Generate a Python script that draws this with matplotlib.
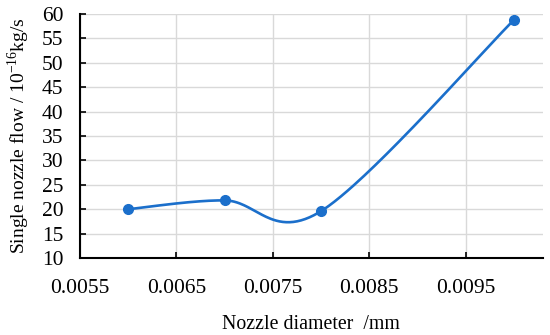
import numpy as np
import matplotlib
matplotlib.use("Agg")
import matplotlib.pyplot as plt

# Data
diameters = [0.006, 0.007, 0.008, 0.010]
flows = [20.0, 21.8, 19.6, 58.8]
x_ticks = [0.0055, 0.0065, 0.0075, 0.0085, 0.0095]
y_ticks = [10, 15, 20, 25, 30, 35, 40, 45, 50, 55, 60]

plt.rcParams['font.family'] = ['Liberation Serif', 'DejaVu Serif']
plt.rcParams['mathtext.fontset'] = 'custom'
plt.rcParams['mathtext.rm'] = 'Liberation Serif'

fig = plt.figure(figsize=(5.5, 3.35), dpi=100)
ax = fig.add_axes([0.1455, 0.23, 0.8415, 0.728])

xmin, xmax = 0.0055, 0.0103
ymin, ymax = 10, 60
ax.set_xlim(xmin, xmax)
ax.set_ylim(ymin, ymax)

# Excel-like smoothed line (Catmull-Rom Bezier in normalized screen space)
W, H = 463.0, 244.0
px = (np.array(diameters) - xmin) / (xmax - xmin) * W
py = (np.array(flows) - ymin) / (ymax - ymin) * H
pts = np.column_stack([px, py])
n = len(pts)
curve = []
t = np.linspace(0, 1, 60)[:, None]
for i in range(n - 1):
    p0 = pts[max(i - 1, 0)]
    p1 = pts[i]
    p2 = pts[i + 1]
    p3 = pts[min(i + 2, n - 1)]
    c1 = p1 + (p2 - p0) / 6.0
    c2 = p2 - (p3 - p1) / 6.0
    seg = ((1 - t) ** 3) * p1 + 3 * ((1 - t) ** 2) * t * c1 + 3 * (1 - t) * t ** 2 * c2 + t ** 3 * p2
    curve.append(seg)
curve = np.vstack(curve)
cx = curve[:, 0] / W * (xmax - xmin) + xmin
cy = curve[:, 1] / H * (ymax - ymin) + ymin

color = '#1b6fcb'
ax.plot(cx, cy, color=color, lw=1.9, zorder=3)
ax.plot(diameters, flows, 'o', color=color, markersize=7, zorder=4)

ax.set_xticks(x_ticks)
ax.set_xticklabels([f"{v:.4f}" for v in x_ticks])
ax.set_yticks(y_ticks)
ax.grid(True, color='#d9d9d9', lw=1.0, zorder=0)
ax.set_axisbelow(True)

for s in ['top', 'right']:
    ax.spines[s].set_visible(False)
for s in ['left', 'bottom']:
    ax.spines[s].set_linewidth(1.5)
    ax.spines[s].set_color('black')

ax.tick_params(axis='both', direction='in', length=4.5, width=1.2, labelsize=15.5, colors='black')
ax.tick_params(axis='x', pad=15)
ax.tick_params(axis='y', pad=12)

ax.set_xlabel('Nozzle diameter  /mm', fontsize=14.3, labelpad=12.5)
ax.set_ylabel(r'Single nozzle flow / 10$^{\mathrm{-16}}$kg/s', fontsize=14, labelpad=7)

fig.savefig('out.png', dpi=100)
